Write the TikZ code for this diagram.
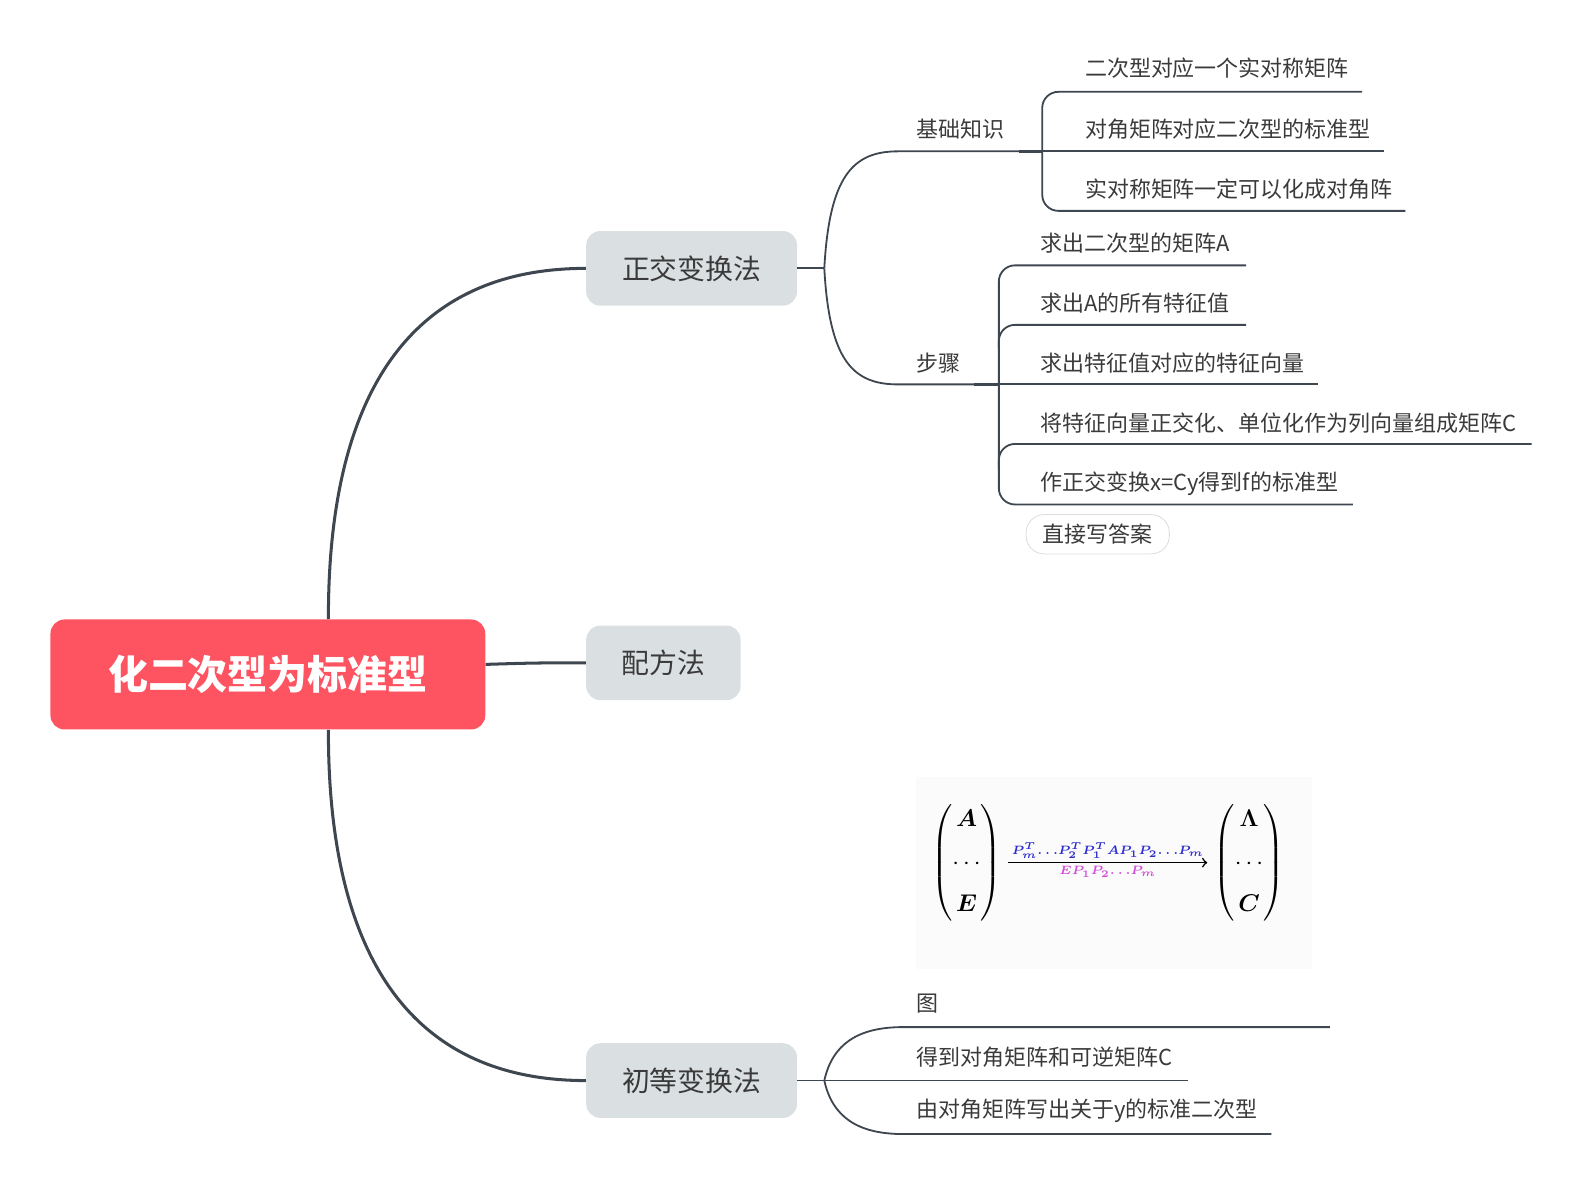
\documentclass[tikz,border=0pt]{standalone}
\usepackage{fontspec}
\usepackage{amsmath,bm}
\newfontfamily\cjk{Noto Sans CJK SC}
\definecolor{rootred}{HTML}{FE5461}
\definecolor{topicgray}{HTML}{DAE0E2}
\definecolor{linegray}{HTML}{3E4650}
\definecolor{textdark}{HTML}{3A3A3A}
\definecolor{tagline}{HTML}{DCDCDC}
\definecolor{pblue}{HTML}{2E2ED0}
\definecolor{pmag}{HTML}{D24FD6}
\tikzset{
  root/.style={fill=rootred, rounded corners=7pt, text=white, inner sep=0pt,
    minimum width=215.5pt, minimum height=54.5pt, font=\cjk\bfseries\fontsize{19.8}{22}\selectfont},
  topic/.style={fill=topicgray, rounded corners=7pt, text=textdark, inner sep=0pt,
    minimum height=37pt, font=\cjk\fontsize{13.8}{16}\selectfont},
  leaf/.style={anchor=west, inner sep=0pt, text=textdark, font=\cjk\fontsize{10.9}{13}\selectfont},
  tag/.style={draw=tagline, fill=white, rounded corners=9pt, text=textdark, inner sep=0pt,
    minimum width=71pt, minimum height=19.5pt, font=\cjk\fontsize{10.9}{13}\selectfont},
  mtx/.style={inner sep=0pt, font=\fontsize{13}{16}\selectfont},
  mainline/.style={draw=linegray, line width=1.5pt},
  subline/.style={draw=linegray, line width=0.9pt},
}
\newcommand{\leaf}[4]{\node[leaf] (#1) at (#2,#3) {#4};}
\newcommand{\uline}[3]{\draw[subline] (#1,#3) -- (#2,#3);}

\begin{document}
\begin{tikzpicture}[x=0.5pt,y=-0.5pt]
    \useasboundingbox (0,0) rectangle (1568,1172);
    % central topic and main branches
    \node[root] (root) at (265.5,668.5) {化二次型为标准型};
    \node[topic, minimum width=104.5pt] (zj) at (685.5,266) {正交变换法};
    \node[topic, minimum width=76.5pt] (pf) at (657.5,657) {配方法};
    \node[topic, minimum width=104.5pt] (cd) at (685.5,1071) {初等变换法};
    \draw[mainline] ([xshift=30pt]root.north) .. controls (325,400) and (400,266) .. (zj.west);
    \draw[mainline] ([yshift=5pt]root.east) .. controls (530,657) .. (pf.west);
    \draw[mainline] ([xshift=30pt]root.south) .. controls (325,937) and (400,1071) .. (cd.west);

    % 正交变换法
    \coordinate (zjR) at (817,266);
    \draw[subline] (zj.east) -- (zjR);
    \leaf{jc}{908}{128}{基础知识}
    \leaf{bz}{908}{360}{步骤}
    \draw[subline] (zjR) .. controls (822,175) and (845,150) .. (890,150) -- (1033,150);
    \draw[subline] (zjR) .. controls (822,357) and (845,381) .. (890,381) -- (990,381);
    \draw[line width=1.5pt, linegray] (1010,150) -- (1033,150);
    \draw[line width=1.5pt, linegray] (965,381) -- (990,381);

    \leaf{jc1}{1075}{68}{二次型对应一个实对称矩阵}
    \leaf{jc2}{1075}{128}{对角矩阵对应二次型的标准型}
    \leaf{jc3}{1075}{187}{实对称矩阵一定可以化成对角阵}
    \draw[subline, rounded corners=8pt] (1350,91) -- (1033,91) -- (1033,209) -- (1393,209);
    \uline{1033}{1372}{150}

    \leaf{bz1}{1031}{241}{求出二次型的矩阵A}
    \leaf{bz2}{1031}{300}{求出A的所有特征值}
    \leaf{bz3}{1031}{360}{求出特征值对应的特征向量}
    \leaf{bz4}{1031}{419}{将特征向量正交化、单位化作为列向量组成矩阵C}
    \leaf{bz5}{1031}{479}{作正交变换x=Cy得到f的标准型}
    \draw[subline, rounded corners=8pt] (1235,263) -- (990,263) -- (990,500) -- (1341,500);
    \draw[subline, rounded corners=8pt] (990,345) |- (1235,322);
    \uline{990}{1306}{381}
    \draw[subline, rounded corners=8pt] (990,465) |- (1518,440);
    \node[tag] (zd) at (1088,529.5) {直接写答案};

    % 初等变换法
    \fill[black!1.5] (908,770) rectangle (1300,960);
    \node[mtx] (mA) at (958,855)
        {$\left(\begin{matrix}\bm{A}\\[5pt] \cdots\\[5pt] \bm{E}\end{matrix}\right)$};
    \node[mtx] (mC) at (1238,855)
        {$\left(\begin{matrix}\bm{\Lambda}\\[5pt] \cdots\\[5pt] \bm{C}\end{matrix}\right)$};
    \draw[->, line width=0.8pt] ([xshift=3pt]mA.east) -- ([xshift=-3pt]mC.west)
        node[midway, above, inner sep=1.5pt, text=pblue, font=\fontsize{6.5}{7}\selectfont]
            {$\bm{P_m^T{\ldots}P_2^T P_1^T AP_1P_2{\ldots}P_m}$}
        node[midway, below, inner sep=1.5pt, text=pmag, font=\fontsize{6.5}{7}\selectfont]
            {$\bm{EP_1P_2{\ldots}P_m}$};

    \coordinate (cdR) at (817,1071);
    \draw[subline] (cd.east) -- (cdR);
    \leaf{cd1}{908}{995}{图}
    \leaf{cd2}{908}{1048}{得到对角矩阵和可逆矩阵C}
    \leaf{cd3}{908}{1101}{由对角矩阵写出关于y的标准二次型}
    \draw[subline] (cdR) .. controls (825,1035) and (850,1018) .. (895,1018) -- (1318,1018);
    \draw[subline] (cdR) -- (1177,1071);
    \draw[subline] (cdR) .. controls (825,1107) and (850,1124) .. (895,1124) -- (1260,1124);
\end{tikzpicture}
\end{document}
